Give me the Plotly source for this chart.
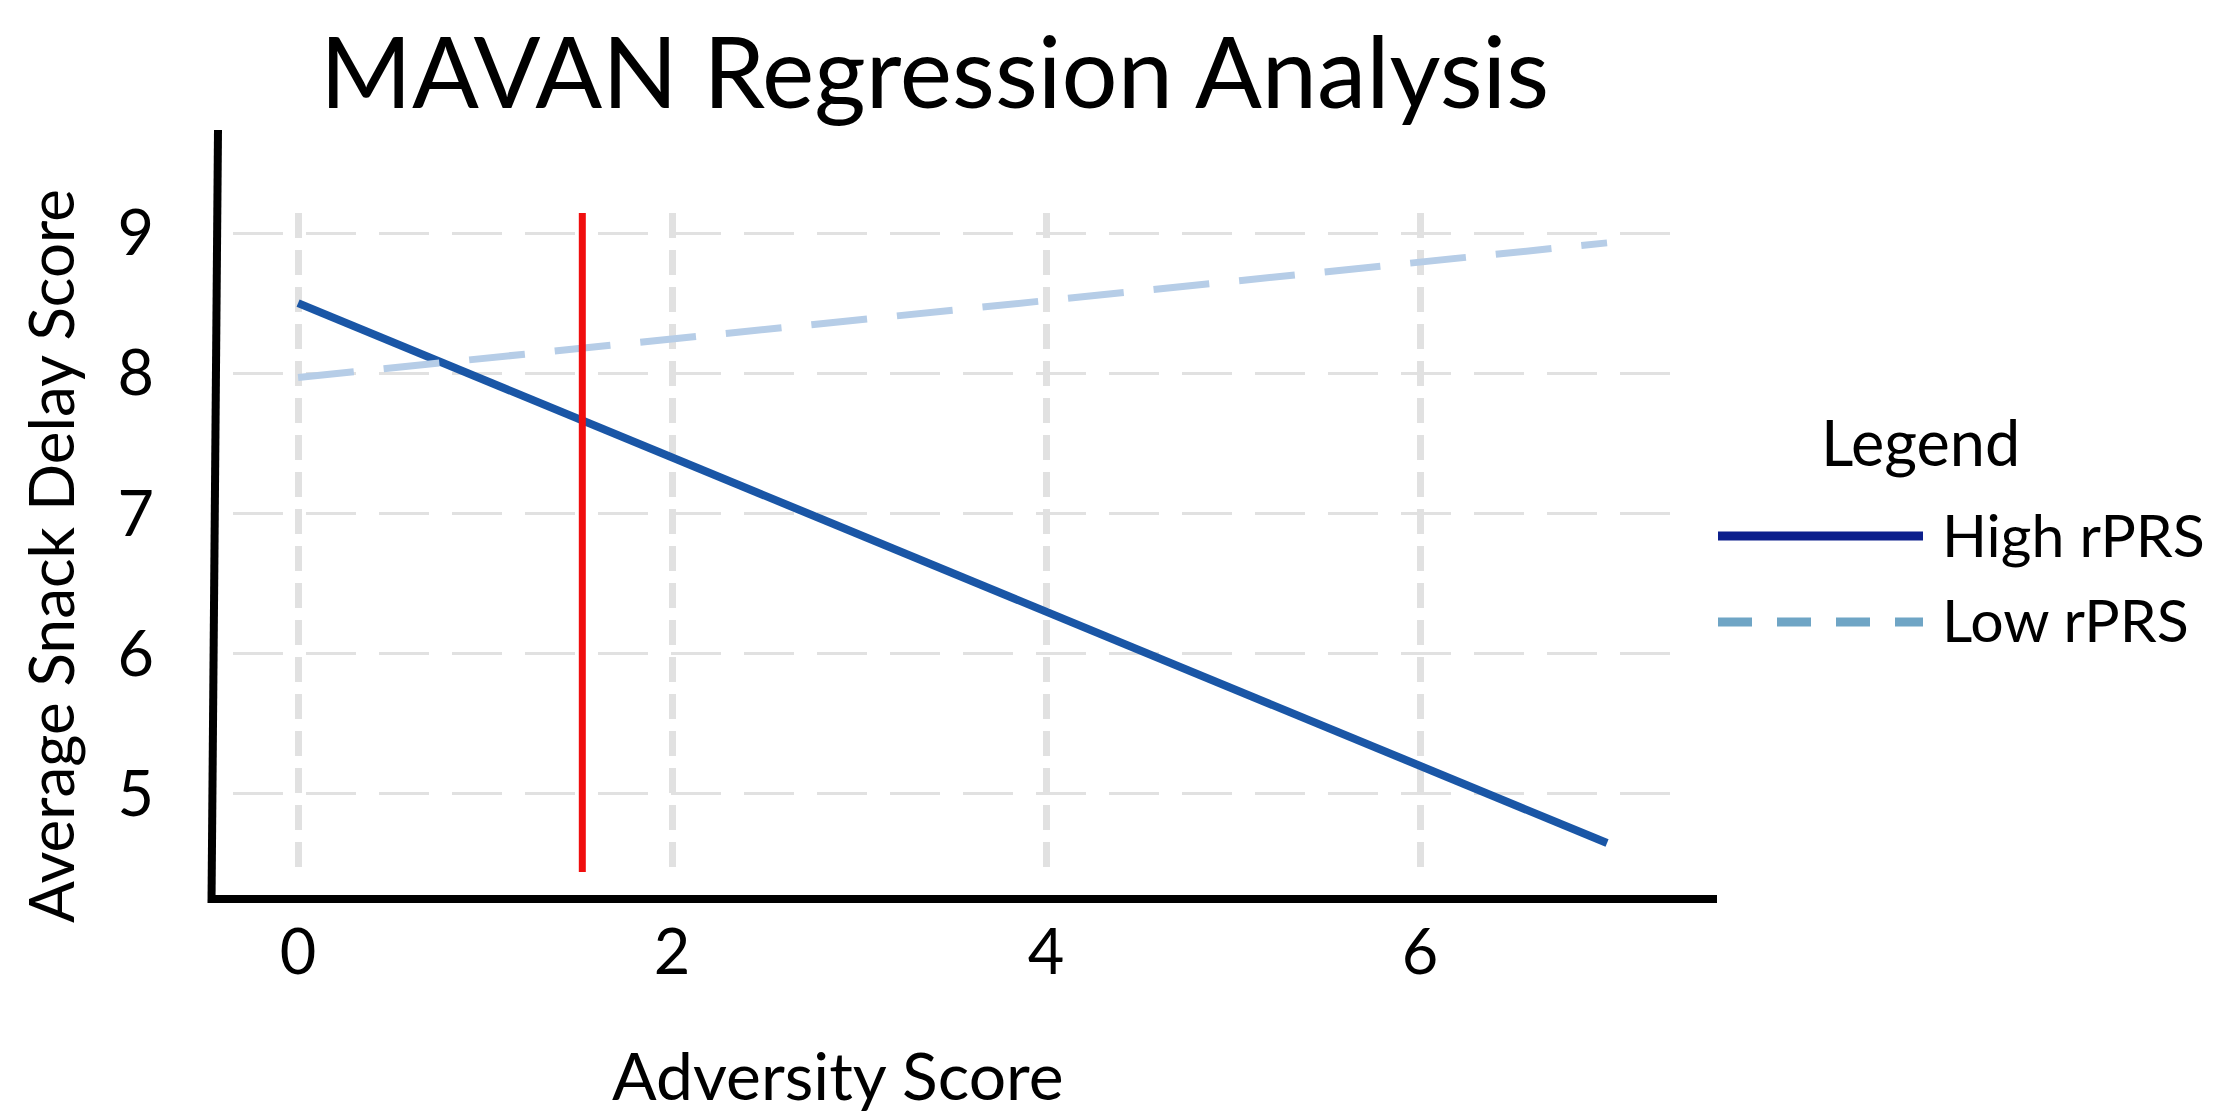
import plotly.graph_objects as go

# ---- data ----
adversity = [0, 7]
high_rprs = [8.50, 4.65]
low_rprs = [7.97, 8.93]
cutoff_x = [1.52, 1.52]
cutoff_y = [4.44, 9.15]
x_ticks = [0, 2, 4, 6]
y_ticks = [5, 6, 7, 8, 9]
legend_labels = ["High rPRS", "Low rPRS"]

W, H = 2217, 1111
L, R, T, B = 225, 1663, 205, 864
FONT = "Lato"


def px(p):
    return (p - L) / (R - L)


def py(p):
    return (B - p) / (B - T)


fig = go.Figure()
fig.add_trace(go.Scatter(x=adversity, y=high_rprs, mode="lines", name=legend_labels[0],
                         line=dict(color="#1a56a6", width=8), showlegend=False))
fig.add_trace(go.Scatter(x=adversity, y=low_rprs, mode="lines", name=legend_labels[1],
                         line=dict(color="#b6cde7", width=7, dash="56px,30px"), showlegend=False))
fig.add_trace(go.Scatter(x=cutoff_x, y=cutoff_y, mode="lines", showlegend=False,
                         line=dict(color="#f00e0e", width=7)))

shapes = [
    # y axis line (slightly slanted)
    dict(type="line", xref="paper", yref="paper", x0=px(210), y0=py(122), x1=px(203.5), y1=py(895),
         line=dict(color="black", width=8)),
    # x axis line
    dict(type="line", xref="paper", yref="paper", x0=px(200), y0=py(891), x1=px(1709), y1=py(891),
         line=dict(color="black", width=8)),
    # legend samples
    dict(type="line", xref="paper", yref="paper", x0=px(1710), y0=py(528), x1=px(1915), y1=py(528),
         line=dict(color="#0c1f8c", width=9)),
    dict(type="line", xref="paper", yref="paper", x0=px(1710), y0=py(614), x1=px(1915), y1=py(614),
         line=dict(color="#6fa5c5", width=9, dash="34px,25px")),
]

annotations = [
    dict(text="MAVAN Regression Analysis", xref="paper", yref="paper", x=px(926), y=py(0),
         xanchor="center", yanchor="top", showarrow=False, font=dict(family=FONT, size=99, color="black")),
    dict(text="Adversity Score", xref="paper", yref="paper", x=px(830), y=py(1066),
         xanchor="center", yanchor="middle", showarrow=False, font=dict(family=FONT, size=66, color="black")),
    dict(text="Average Snack Delay Score", xref="paper", yref="paper", x=px(42), y=py(548),
         xanchor="center", yanchor="middle", textangle=-90, showarrow=False,
         font=dict(family=FONT, size=62, color="black")),
    dict(text="Legend", xref="paper", yref="paper", x=px(1811), y=py(433),
         xanchor="left", yanchor="middle", showarrow=False, font=dict(family=FONT, size=63, color="black")),
    dict(text=legend_labels[0], xref="paper", yref="paper", x=px(1932), y=py(526),
         xanchor="left", yanchor="middle", showarrow=False, font=dict(family=FONT, size=59, color="black")),
    dict(text=legend_labels[1], xref="paper", yref="paper", x=px(1932), y=py(611),
         xanchor="left", yanchor="middle", showarrow=False, font=dict(family=FONT, size=59, color="black")),
]

fig.update_layout(
    width=W, height=H, autosize=False,
    margin=dict(l=L, r=W - R, t=T, b=H - B, pad=0),
    paper_bgcolor="white", plot_bgcolor="white",
    showlegend=False,
    shapes=shapes, annotations=annotations,
    font=dict(family=FONT, color="black"),
)
fig.update_xaxes(range=[-0.348, 7.342], tickvals=x_ticks, ticktext=[str(v) for v in x_ticks],
                 showgrid=True, gridcolor="#e1e1e1", gridwidth=7, griddash="25px,12px",
                 zeroline=False, showline=False, ticks="", ticklabelstandoff=38,
                 tickfont=dict(family=FONT, size=63, color="black"))
fig.update_yaxes(range=[4.443, 9.143], tickvals=y_ticks, ticktext=[str(v) for v in y_ticks],
                 showgrid=True, gridcolor="#e1e1e1", gridwidth=3, griddash="50px,23px",
                 zeroline=False, showline=False, ticks="", ticklabelstandoff=78,
                 tickfont=dict(family=FONT, size=63, color="black"))

fig.write_html("out.html")
